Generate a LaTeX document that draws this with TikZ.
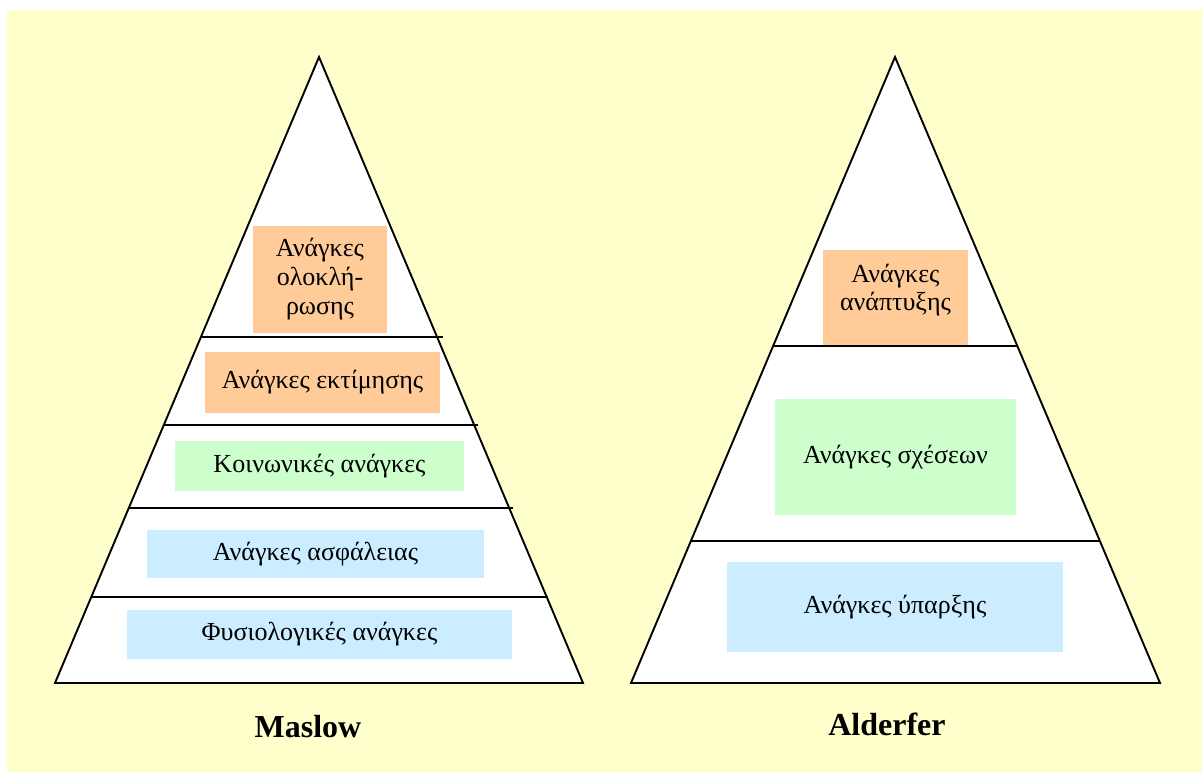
\documentclass[tikz,border=0pt]{standalone}
\usepackage{fontspec}
\setmainfont{Liberation Serif}
\definecolor{bgyellow}{HTML}{FFFFCC}
\definecolor{orangebox}{HTML}{FFCC99}
\definecolor{greenbox}{HTML}{CCFFCC}
\definecolor{bluebox}{HTML}{CCECFF}
\begin{document}
\begin{tikzpicture}[x=1pt,y=-1pt,
  pyr/.style={draw=black,fill=white,line width=1.9pt,line join=miter},
  level/.style={draw=black,line width=1.9pt},
  box/.style={draw=none,inner sep=0pt,align=center,font=\fontsize{26}{29}\selectfont},
  obox/.style={box,fill=orangebox},
  gbox/.style={box,fill=greenbox},
  bbox/.style={box,fill=bluebox},
  title/.style={font=\fontsize{32}{36}\selectfont\bfseries}]
\useasboundingbox (0,0) rectangle (1202,772);
\fill[white] (0,0) rectangle (1202,772);
\fill[bgyellow] (7,10) rectangle (1202,772);
% Maslow pyramid
\draw[pyr] (319,57) -- (583,683) -- (55,683) -- cycle;
\coordinate (m1l) at (200,337); \coordinate (m1r) at (443,337);
\coordinate (m2l) at (163,425); \coordinate (m2r) at (478,425);
\coordinate (m3l) at (128,508); \coordinate (m3r) at (513,508);
\coordinate (m4l) at (91,597);  \coordinate (m4r) at (548,597);
\draw[level] (m1l) -- (m1r);
\draw[level] (m2l) -- (m2r);
\draw[level] (m3l) -- (m3r);
\draw[level] (m4l) -- (m4r);
\node[obox,minimum width=134pt,minimum height=107pt] (ol) at (320,279.5) {Ανάγκες\\ολοκλή-\\ρωσης};
\node[obox,minimum width=235pt,minimum height=61pt] (ek) at (322.5,382.5) {Ανάγκες εκτίμησης};
\node[gbox,minimum width=289pt,minimum height=50pt] (ko) at (319.5,466) {Κοινωνικές ανάγκες};
\node[bbox,minimum width=337pt,minimum height=48pt] (as) at (315.5,554) {Ανάγκες ασφάλειας};
\node[bbox,minimum width=385pt,minimum height=49pt] (fy) at (319.5,634.5) {Φυσιολογικές ανάγκες};
\node[title] (maslow) at (308,727) {Maslow};
% Alderfer pyramid
\draw[pyr] (895,57) -- (1160,683) -- (631,683) -- cycle;
\coordinate (a1l) at (773,346); \coordinate (a1r) at (1017,346);
\coordinate (a2l) at (691,541); \coordinate (a2r) at (1100,541);
\draw[level] (a1l) -- (a1r);
\draw[level] (a2l) -- (a2r);
\node[obox,minimum width=145pt,minimum height=95pt] (an) at (895.5,297.5) {};
\node[box,font=\fontsize{26}{28}\selectfont] (ant) at (895.5,290) {Ανάγκες\\ανάπτυξης};
\node[gbox,minimum width=241pt,minimum height=116pt] (sx) at (895.5,457) {Ανάγκες σχέσεων};
\node[bbox,minimum width=336pt,minimum height=90pt] (yp) at (895,607) {Ανάγκες ύπαρξης};
\node[title] (alderfer) at (887,724) {Alderfer};
\end{tikzpicture}
\end{document}
